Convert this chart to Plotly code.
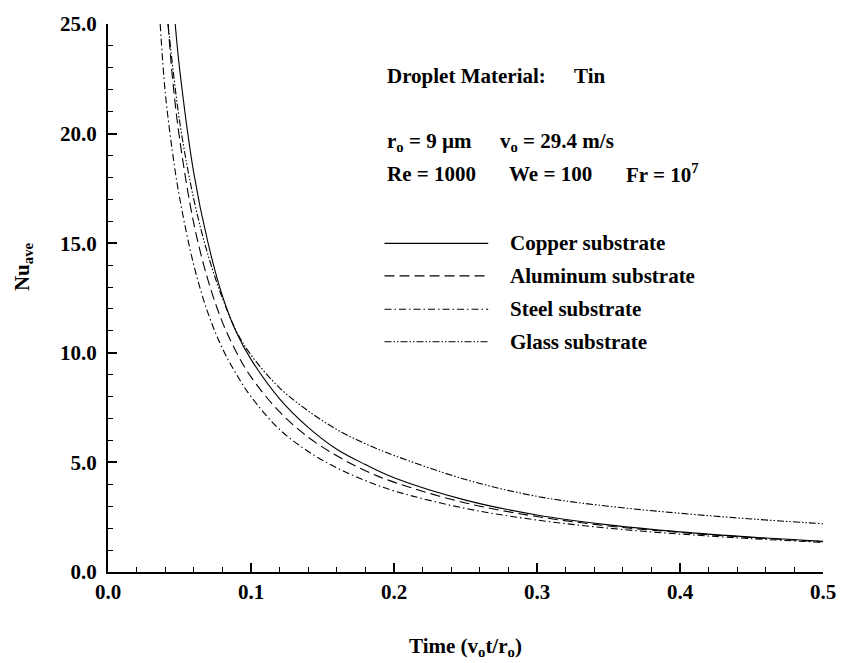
import plotly.graph_objects as go

# ---- data ----
copper_t = [0.047, 0.05, 0.06, 0.07, 0.08, 0.09, 0.10, 0.12, 0.14, 0.16, 0.18, 0.20, 0.25, 0.30, 0.35, 0.40, 0.45, 0.50]
copper_nu = [25.0, 23.0, 18.2, 15.0, 12.6, 10.9, 9.7, 7.9, 6.6, 5.6, 4.9, 4.3, 3.28, 2.6, 2.15, 1.83, 1.59, 1.40]

aluminum_t = [0.042, 0.045, 0.05, 0.06, 0.07, 0.08, 0.09, 0.10, 0.12, 0.14, 0.16, 0.18, 0.20, 0.25, 0.30, 0.35, 0.40, 0.45, 0.50]
aluminum_nu = [25.0, 22.6, 19.8, 15.9, 13.3, 11.4, 10.0, 8.9, 7.3, 6.15, 5.3, 4.62, 4.1, 3.15, 2.53, 2.1, 1.8, 1.57, 1.38]

steel_t = [0.0365, 0.04, 0.045, 0.05, 0.06, 0.07, 0.08, 0.09, 0.10, 0.12, 0.14, 0.16, 0.18, 0.20, 0.25, 0.30, 0.35, 0.40, 0.45, 0.50]
steel_nu = [25.0, 21.9, 19.2, 17.1, 14.0, 11.8, 10.2, 9.0, 8.0, 6.5, 5.5, 4.75, 4.17, 3.7, 2.9, 2.37, 2.0, 1.73, 1.52, 1.35]

glass_t = [0.042, 0.05, 0.06, 0.07, 0.08, 0.09, 0.10, 0.12, 0.14, 0.16, 0.18, 0.20, 0.25, 0.30, 0.35, 0.40, 0.45, 0.50]
glass_nu = [25.0, 20.6, 17.0, 14.45, 12.5, 10.95, 9.9, 8.4, 7.35, 6.5, 5.85, 5.32, 4.22, 3.45, 3.0, 2.68, 2.42, 2.2]

series_names = ["Copper substrate", "Aluminum substrate", "Steel substrate", "Glass substrate"]
series_dash = ["solid", "10px,5px", "7px,3px,1.5px,3px", "7px,2px,1.5px,2px,1.5px,2px"]

x_tickvals = [0.0, 0.1, 0.2, 0.3, 0.4, 0.5]
x_ticktext = ["0.0", "0.1", "0.2", "0.3", "0.4", "0.5"]
y_tickvals = [0, 5, 10, 15, 20, 25]
y_ticktext = ["0.0", "5.0", "10.0", "15.0", "20.0", "25.0"]

FONT = "Liberation Serif, Times New Roman, Times, serif"
fs = 21

def bold(s):
    return "<b>" + s + "</b>"

fig = go.Figure()
all_t = [copper_t, aluminum_t, steel_t, glass_t]
all_nu = [copper_nu, aluminum_nu, steel_nu, glass_nu]
for t, nu, name, dash in zip(all_t, all_nu, series_names, series_dash):
    fig.add_trace(go.Scatter(
        x=t, y=nu, mode="lines", name=name, showlegend=False,
        line=dict(color="black", width=1.1, dash=dash, shape="spline", smoothing=1.0),
    ))

# plot area in pixels: x 108..832, y 15..572
L, R, T, B = 108, 832, 15, 572
W, H = 848, 663
pw, ph = R - L, B - T

def px(xp):
    return (xp - L) / pw

def py(yp):
    return (B - yp) / ph

tfont = dict(family=FONT, size=fs, color="black")

shapes = []
annotations = []
legend_rows = [238, 271, 305, 338]
for name, dash, yy in zip(series_names, series_dash, legend_rows):
    shapes.append(dict(type="line", xref="paper", yref="paper",
                       x0=px(388), x1=px(493), y0=py(yy), y1=py(yy),
                       line=dict(color="black", width=1.1, dash=dash)))
    annotations.append(dict(xref="paper", yref="paper", x=px(513), y=py(yy),
                            xanchor="left", yanchor="middle", showarrow=False,
                            text=bold(name), font=tfont))

texts = [
    ("Droplet Material:", 388, 68),
    ("Tin", 578, 68),
    ("r<sub>o</sub> = 9 \u00b5m", 388, 135),
    ("v<sub>o</sub> = 29.4 m/s", 503, 135),
    ("Re = 1000", 388, 167),
    ("We = 100", 512, 167),
    ("Fr = 10<sup>7</sup>", 631, 167),
]
for txt, xx, yy in texts:
    annotations.append(dict(xref="paper", yref="paper", x=px(xx), y=py(yy),
                            xanchor="left", yanchor="middle", showarrow=False,
                            text=bold(txt), font=tfont))

# axis titles
annotations.append(dict(xref="paper", yref="paper", x=px(22), y=py(262),
                        xanchor="center", yanchor="middle", showarrow=False, textangle=-90,
                        text=bold("Nu<sub>ave</sub>"), font=tfont))
annotations.append(dict(xref="paper", yref="paper", x=0.5, y=py(648),
                        xanchor="center", yanchor="middle", showarrow=False,
                        text=bold("Time (v<sub>o</sub>t/r<sub>o</sub>)"), font=tfont))

axis_common = dict(
    showgrid=False, zeroline=False, showline=True, linecolor="black", linewidth=2,
    ticks="inside", ticklen=9, tickwidth=1.5, tickcolor="black",
    tickfont=tfont,
)

fig.update_layout(
    width=W, height=H,
    margin=dict(l=L, r=W - R, t=T, b=H - B),
    paper_bgcolor="white", plot_bgcolor="white",
    font=dict(family=FONT),
    shapes=shapes, annotations=annotations,
    xaxis=dict(range=[0, 0.5], tickvals=x_tickvals, ticktext=[bold(s) for s in x_ticktext],
               minor=dict(dtick=0.02, tick0=0, ticks="inside", ticklen=5, tickwidth=1, tickcolor="black"),
               ticklabelstandoff=0, **axis_common),
    yaxis=dict(range=[0, 25], tickvals=y_tickvals, ticktext=[bold(s) for s in y_ticktext],
               minor=dict(dtick=1, tick0=0, ticks="inside", ticklen=5, tickwidth=1, tickcolor="black"),
               ticklabelstandoff=5, **axis_common),
)

fig.write_html("out.html")
